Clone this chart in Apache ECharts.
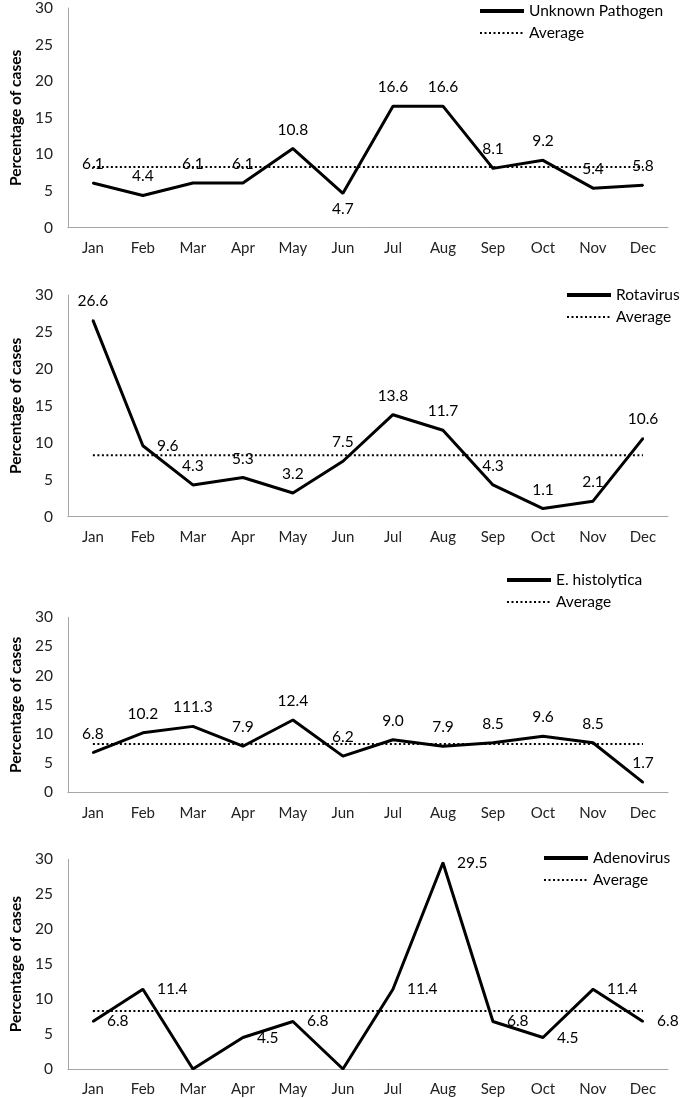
<!DOCTYPE html>
<html>
<head>
<meta charset="utf-8">
<script src="https://cdn.jsdelivr.net/npm/echarts@6/dist/echarts.min.js"></script>
<style>
  html, body { margin: 0; padding: 0; background: #fff; }
  #chart { width: 685px; height: 1098px; }
</style>
</head>
<body>
<div id="chart"></div>
<script>
const months = ['Jan', 'Feb', 'Mar', 'Apr', 'May', 'Jun', 'Jul', 'Aug', 'Sep', 'Oct', 'Nov', 'Dec'];
const unknownPathogen = [6.1, 4.4, 6.1, 6.1, 10.8, 4.7, 16.6, 16.6, 8.1, 9.2, 5.4, 5.8];
const rotavirus = [26.6, 9.6, 4.3, 5.3, 3.2, 7.5, 13.8, 11.7, 4.3, 1.1, 2.1, 10.6];
const eHistolytica = [6.8, 10.2, 11.3, 7.9, 12.4, 6.2, 9.0, 7.9, 8.5, 9.6, 8.5, 1.7];
const eHistolyticaLabels = ['6.8', '10.2', '111.3', '7.9', '12.4', '6.2', '9.0', '7.9', '8.5', '9.6', '8.5', '1.7'];
const adenovirus = [6.8, 11.4, 0, 4.5, 6.8, 0, 11.4, 29.5, 6.8, 4.5, 11.4, 6.8];
const average = [8.3, 8.3, 8.3, 8.3, 8.3, 8.3, 8.3, 8.3, 8.3, 8.3, 8.3, 8.3];
const yAxisName = 'Percentage of cases';
const averageName = 'Average';

const FONT = 'Lato, "Open Sans", sans-serif';

const panels = [
  { name: 'Unknown Pathogen', values: unknownPathogen, labels: null,
    grid: { top: 5, height: 222.7 }, legend: { left: 478, top: 3 },
    defaultPos: 'top', overrides: { 5: 'bottom' } },
  { name: 'Rotavirus', values: rotavirus, labels: null,
    grid: { top: 295, height: 221.7 }, legend: { left: 565, top: 287 },
    defaultPos: 'top', overrides: { 1: 'right' } },
  { name: 'E. histolytica', values: eHistolytica, labels: eHistolyticaLabels,
    grid: { top: 617.3, height: 175 }, legend: { left: 505, top: 572 },
    defaultPos: 'top', overrides: {} },
  { name: 'Adenovirus', values: adenovirus, labels: null,
    grid: { top: 859.3, height: 209.7 }, legend: { left: 542, top: 850 },
    defaultPos: 'right', overrides: {} }
];

const option = {
  backgroundColor: '#ffffff',
  animation: false,
  grid: [], xAxis: [], yAxis: [], series: [], legend: []
};

panels.forEach((p, i) => {
  option.grid.push({ left: 52, right: 17, top: p.grid.top, height: p.grid.height, containLabel: false });
  option.xAxis.push({
    type: 'category', gridIndex: i, data: months, boundaryGap: true,
    axisLine: { show: true, lineStyle: { color: '#a6a6a6', width: 1 } },
    axisTick: { show: false },
    axisLabel: { margin: 13, color: '#222', fontSize: 15, fontFamily: FONT },
    splitLine: { show: false }
  });
  option.yAxis.push({
    type: 'value', gridIndex: i, min: 0, max: 30, interval: 5,
    name: yAxisName, nameLocation: 'middle', nameGap: 35,
    nameTextStyle: { fontFamily: FONT, fontWeight: 'bold', fontSize: 15.5, color: '#000' },
    axisLine: { show: true, lineStyle: { color: '#a6a6a6', width: 1 } },
    axisTick: { show: false },
    axisLabel: { margin: 15, color: '#222', fontSize: 15.5, fontFamily: FONT },
    splitLine: { show: false }
  });
  const seriesData = p.values.map((v, k) => {
    const pos = p.overrides[k] || p.defaultPos;
    const dist = pos === 'top' ? 10 : (pos === 'bottom' ? 7 : 13);
    return { value: v, label: { position: pos, distance: dist } };
  });
  option.series.push({
    name: averageName, type: 'line', xAxisIndex: i, yAxisIndex: i,
    data: average, symbol: 'none', silent: true, z: 2,
    itemStyle: { color: '#000' },
    lineStyle: { color: '#000', width: 2, type: [2, 2.5] }
  });
  option.series.push({
    name: p.name, type: 'line', xAxisIndex: i, yAxisIndex: i,
    data: seriesData, symbol: 'circle', symbolSize: 2, showSymbol: true, z: 3,
    lineStyle: { color: '#000', width: 3 },
    itemStyle: { color: '#000' },
    label: {
      show: true, color: '#000', fontSize: 15.5, fontFamily: FONT,
      formatter: (params) => {
        if (p.labels) return p.labels[params.dataIndex];
        return params.value === 0 ? '' : params.value.toFixed(1);
      }
    }
  });
  option.legend.push({
    orient: 'vertical', left: p.legend.left, top: p.legend.top,
    padding: 0,
    data: [
      { name: p.name, lineStyle: { width: 4, color: '#000', type: 'solid' } },
      { name: averageName, lineStyle: { width: 2, color: '#000', type: [2, 2.5] } }
    ],
    itemWidth: 44, itemHeight: 14, itemGap: 6,
    selectedMode: false,
    itemStyle: { opacity: 0 },
    textStyle: { fontFamily: FONT, fontSize: 15.5, color: '#000', lineHeight: 16 }
  });
});

const chart = echarts.init(document.getElementById('chart'), null, { renderer: 'canvas' });
chart.setOption(option);
</script>
</body>
</html>
